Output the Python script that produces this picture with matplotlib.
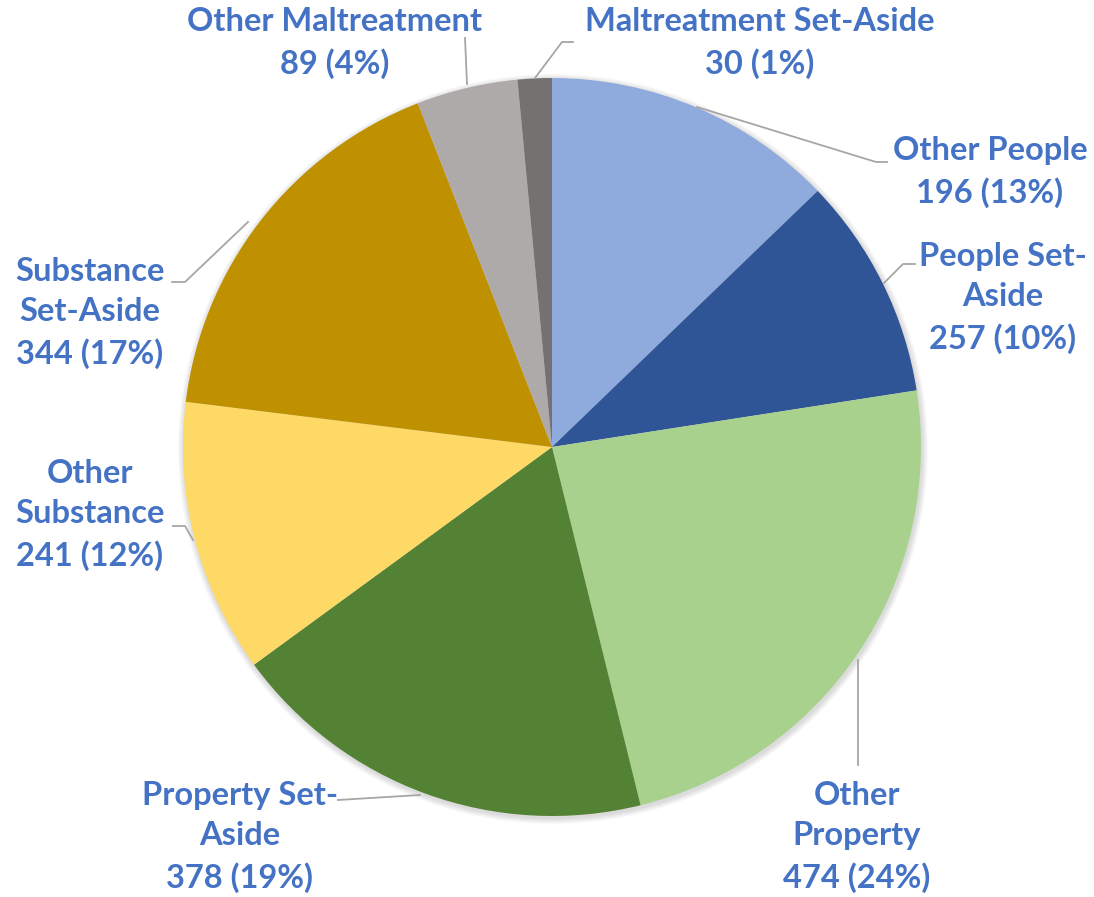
import numpy as np
import matplotlib
matplotlib.use("Agg")
import matplotlib.pyplot as plt
from matplotlib.patches import Circle

# categories in clockwise order from 12 o'clock
categories = ["Other People", "People Set-\nAside", "Other\nProperty", "Property Set-\nAside",
              "Other\nSubstance", "Substance\nSet-Aside", "Other Maltreatment", "Maltreatment Set-Aside"]
counts = [196, 257, 474, 378, 241, 344, 89, 30]          # as printed on the labels
percents = [13, 10, 24, 19, 12, 17, 4, 1]                 # as printed on the labels
# slice sizes as drawn (first two labels appear swapped relative to the wedges)
slice_sizes = [257, 196, 474, 378, 241, 344, 89, 30]
colors = ["#8FAADC", "#2F5597", "#A9D18E", "#548235", "#FFD966", "#BF9000", "#AEAAAA", "#767171"]

W, H = 1094, 897
fig = plt.figure(figsize=(W / 100, H / 100), dpi=100)
ax = fig.add_axes([0, 0, 1, 1])

cx, cy, r = 552, 450, 369

# soft shadow
for k in range(6):
    ax.add_patch(Circle((cx + 1, cy - 2), r + 6 - k, color="black", alpha=0.025, lw=0, zorder=0))

ax.pie(slice_sizes, colors=colors, startangle=90, counterclock=False,
       center=(cx, cy), radius=r, frame=True,
       wedgeprops=dict(linewidth=0, zorder=1))
ax.set_xlim(0, W)
ax.set_ylim(0, H)
ax.set_aspect("equal")
ax.axis("off")

# label positions (text block centres) and leader lines
label_pos = [(990, 725), (1003, 599), (857, 60), (240, 60),
             (90, 382), (90, 584), (335, 854), (760, 854)]
leaders = [
    [(697, 790), (876, 735), (887, 735)],
    [(884, 614), (903, 633), (915, 633)],
    [(858, 237), (858, 132)],
    [(420, 102), (338, 97)],
    [(193, 357), (185, 371), (173, 371)],
    [(248, 675), (185, 615), (172, 615)],
    [(467, 813), (465, 859)],
    [(535, 819), (562, 855), (573, 855)],
]

for name, n, p, (x, y), pts in zip(categories, counts, percents, label_pos, leaders):
    ax.text(x, y, f"{name}\n{n} ({p}%)", ha="center", va="center", multialignment="center",
            fontsize=23.5, fontweight="bold", family=["Lato", "DejaVu Sans"], color="#4472C4",
            linespacing=1.48, zorder=5)
    xs, ys = zip(*pts)
    ax.plot(xs, ys, color="#A6A6A6", lw=1.3, zorder=4)

fig.savefig("out.png", dpi=100, facecolor="white")
